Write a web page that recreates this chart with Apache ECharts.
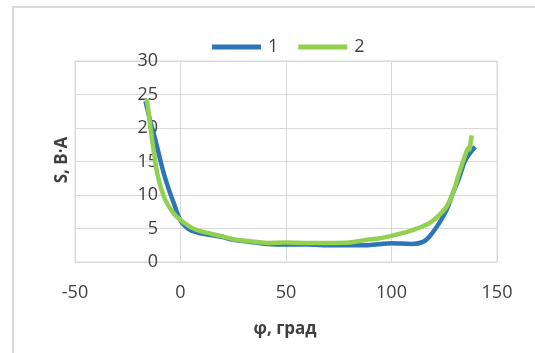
<!DOCTYPE html>
<html>
<head>
<meta charset="utf-8">
<script src="https://cdn.jsdelivr.net/npm/echarts@6/dist/echarts.min.js"></script>
<style>html,body{margin:0;padding:0;background:#fff}#c{width:535px;height:353px}</style>
</head>
<body>
<div id="c"></div>
<script>
var seriesNames = ['1', '2'];
var series1 = [
  [-16.6, 24.0], [-14.3, 21.0], [-11.8, 18.1], [-9.8, 15.5], [-7.9, 13.2], [-5.5, 10.8],
  [-3.2, 8.8], [0, 6.2], [4.7, 4.75], [9.4, 4.3], [18.9, 3.8], [25, 3.3], [33, 3.0],
  [41, 2.7], [50, 2.6], [60, 2.6], [72, 2.5], [80, 2.5], [88, 2.5], [95, 2.7], [100, 2.8],
  [110, 2.7], [115, 3.0], [118, 3.8], [122.6, 5.8], [126, 7.7], [129, 10.2], [132, 12.5],
  [135, 15.2], [139.6, 17.2]
];
var series2 = [
  [-16.0, 24.4], [-14.6, 21], [-13.4, 18.1], [-12.2, 15.5], [-11, 13.2], [-9.2, 11],
  [-7.1, 9.2], [-4.5, 7.8], [-1.6, 6.7], [4.7, 5.2], [9.4, 4.6], [18.9, 3.9], [25, 3.4],
  [33, 3.1], [41, 2.85], [50, 2.9], [60, 2.85], [72, 2.85], [80, 2.9], [88, 3.3], [94, 3.5],
  [100, 3.9], [105, 4.3], [110, 4.75], [118, 5.8], [122.6, 7.0], [126, 8.2], [129, 10.2],
  [132, 13.2], [135, 16.0], [136.4, 17.0], [136.9, 16.8], [137.5, 17.9], [138, 18.9]
];
var xTitle = 'φ, град';
var yTitle = 'S, В·А';

var FONT = '"Open Sans", "DejaVu Sans", sans-serif';
var chart = echarts.init(document.getElementById('c'), null, {renderer: 'canvas'});
chart.setOption({
  animation: false,
  backgroundColor: '#fff',
  grid: {left: 75, right: 38, top: 61, bottom: 91, show: true, borderColor: '#d9d9d9', borderWidth: 1},
  legend: {
    top: 33, left: 207,
    itemWidth: 49, itemHeight: 5, itemGap: 20,
    icon: 'rect',
    textStyle: {fontFamily: FONT, fontSize: 18, color: '#404040', padding: [0, 0, 0, 2]},
    data: seriesNames
  },
  xAxis: {
    type: 'value', min: -50, max: 150, interval: 50,
    axisLine: {show: false}, axisTick: {show: false},
    splitLine: {show: true, lineStyle: {color: '#d9d9d9', width: 1}},
    axisLabel: {fontFamily: FONT, fontSize: 18, color: '#404040', margin: 22}
  },
  yAxis: {
    type: 'value', min: 0, max: 30, interval: 5,
    position: 'left', offset: -105,
    axisLine: {show: false, onZero: false}, axisTick: {show: false},
    splitLine: {show: true, lineStyle: {color: '#d9d9d9', width: 1}},
    axisLabel: {fontFamily: FONT, fontSize: 18, color: '#404040', margin: 22}
  },
  graphic: [
    {type: 'rect', shape: {x: 13, y: 7, width: 700, height: 500}, style: {fill: 'none', stroke: '#d9d9d9', lineWidth: 2}, silent: true},
    {type: 'text', x: 285, y: 329, style: {text: xTitle, font: 'bold 17px ' + FONT, fill: '#404040', textAlign: 'center', textVerticalAlign: 'middle'}},
    {type: 'text', x: 62, y: 160, rotation: Math.PI / 2, style: {text: yTitle, font: 'bold 17px ' + FONT, fill: '#404040', textAlign: 'center', textVerticalAlign: 'middle'}}
  ],
  series: [
    {name: seriesNames[0], type: 'line', data: series1, smooth: 0.3, showSymbol: false,
     lineStyle: {color: '#2E75B6', width: 4.5}, itemStyle: {color: '#2E75B6'}},
    {name: seriesNames[1], type: 'line', data: series2, smooth: 0.3, showSymbol: false,
     lineStyle: {color: '#92D050', width: 4.5}, itemStyle: {color: '#92D050'}}
  ]
});
</script>
</body>
</html>
